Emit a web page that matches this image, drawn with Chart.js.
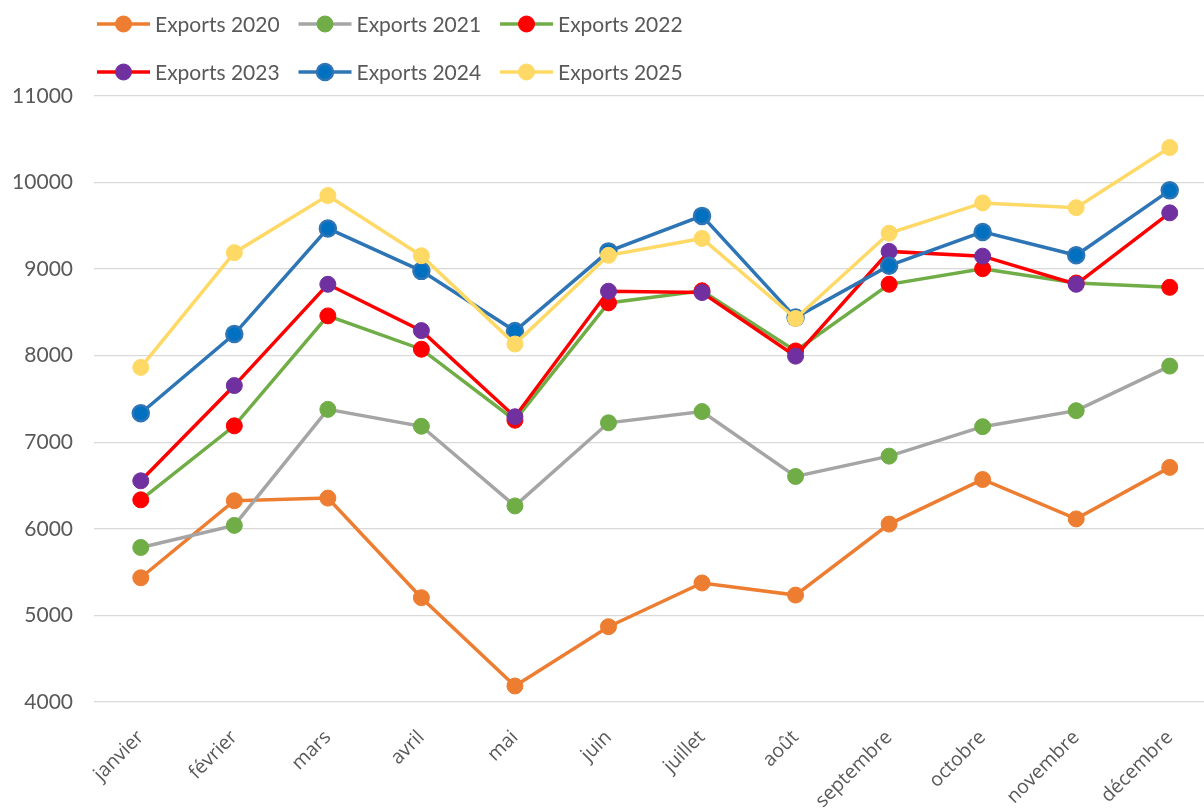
<!DOCTYPE html>
<html><head><meta charset="utf-8">
<script src="https://cdn.jsdelivr.net/npm/chart.js@4"></script>
<style>
html,body{margin:0;padding:0;background:#fff;overflow:hidden;width:1204px;height:808px}
#wrap{position:absolute;left:0;top:0;width:1227px;height:808px}
canvas{display:block}
</style></head><body>
<div id="wrap"><canvas id="c" width="1227" height="808"></canvas></div>
<script>
const months = ['janvier','février','mars','avril','mai','juin','juillet','août','septembre','octobre','novembre','décembre'];
const seriesNames = ['Exports 2020','Exports 2021','Exports 2022','Exports 2023','Exports 2024','Exports 2025'];
const exports2020 = [5435, 6325, 6355, 5205, 4185, 4870, 5375, 5235, 6055, 6570, 6115, 6710];
const exports2021 = [5785, 6040, 7380, 7185, 6265, 7225, 7355, 6605, 6840, 7180, 7365, 7880];
const exports2022 = [6335, 7190, 8460, 8075, 7255, 8610, 8750, 8055, 8825, 9005, 8840, 8790];
const exports2023 = [6555, 7655, 8825, 8290, 7295, 8745, 8730, 7995, 9205, 9150, 8825, 9650];
const exports2024 = [7335, 8250, 9470, 8980, 8285, 9205, 9615, 8440, 9040, 9430, 9160, 9910];
const exports2025 = [7865, 9190, 9850, 9155, 8135, 9160, 9355, 8430, 9415, 9765, 9710, 10405];
const yTicks = [4000, 5000, 6000, 7000, 8000, 9000, 10000, 11000];

const lineColors   = ['#ED7D31','#A5A5A5','#70AD47','#FF0000','#2E75B6','#FFD966'];
const pointFills   = ['#ED7D31','#70AD47','#FF0000','#7030A0','#0070C0','#FFD966'];
const pointBorders = ['#ED7D31','#70AD47','#FF0000','#7030A0','#2E75B6','#FFD966'];

const seriesValues = [exports2020, exports2021, exports2022, exports2023, exports2024, exports2025];
const FONT = 'Lato, "Open Sans", sans-serif';
const XFONT = '"Open Sans", Lato, sans-serif';
const TEXT = '#595959';

const datasets = seriesValues.map((vals, i) => ({
  label: seriesNames[i],
  data: vals,
  borderColor: lineColors[i],
  backgroundColor: pointFills[i],
  borderWidth: 3.5,
  pointRadius: 8,
  pointHoverRadius: 8,
  pointBackgroundColor: pointFills[i],
  pointBorderColor: pointBorders[i],
  pointBorderWidth: i === 4 ? 2.5 : 1,
  tension: 0,
  fill: false,
  order: seriesValues.length - 1 - i
}));

const lineLegend = {
  id: 'lineLegend',
  afterDraw(chart) {
    const ctx = chart.ctx;
    const x0 = chart.chartArea.left + 3, dx = 201.5, rows = [24, 72], lineLen = 53, gap = 5;
    ctx.save();
    ctx.font = '21px ' + FONT;
    ctx.textBaseline = 'middle';
    ctx.textAlign = 'left';
    chart.data.datasets.forEach((ds, i) => {
      const x = x0 + (i % 3) * dx, y = rows[Math.floor(i / 3)];
      ctx.strokeStyle = ds.borderColor; ctx.lineWidth = ds.borderWidth;
      ctx.beginPath(); ctx.moveTo(x, y); ctx.lineTo(x + lineLen, y); ctx.stroke();
      ctx.beginPath(); ctx.arc(x + lineLen / 2, y, ds.pointRadius, 0, Math.PI * 2);
      ctx.fillStyle = ds.pointBackgroundColor; ctx.fill();
      ctx.lineWidth = ds.pointBorderWidth; ctx.strokeStyle = ds.pointBorderColor; ctx.stroke();
      ctx.fillStyle = TEXT;
      ctx.fillText(ds.label, x + lineLen + gap, y + 1);
    });
    ctx.restore();
  }
};

new Chart(document.getElementById('c'), {
  type: 'line',
  data: { labels: months, datasets },
  plugins: [lineLegend],
  options: {
    responsive: false,
    animation: false,
    devicePixelRatio: 1,
    layout: { padding: { top: 96, right: 0, bottom: 0, left: 0 } },
    plugins: { legend: { display: false }, tooltip: { enabled: false } },
    scales: {
      x: {
        offset: true,
        grid: { display: false, drawTicks: false },
        border: { display: false },
        ticks: { minRotation: 45, maxRotation: 45, autoSkip: false, color: TEXT, font: { family: XFONT, size: 19.5 }, padding: 24 },
        afterFit: s => { s.height = 106; }
      },
      y: {
        min: yTicks[0], max: yTicks[yTicks.length - 1],
        afterBuildTicks: s => { s.ticks = yTicks.map(v => ({ value: v })); },
        grid: { color: '#D9D9D9', lineWidth: 1.3, drawTicks: false },
        border: { display: false },
        ticks: { color: TEXT, font: { family: FONT, size: 21 }, padding: 21, callback: v => String(v) },
        afterFit: s => { s.width = 94; }
      }
    }
  }
});
</script>
</body></html>
